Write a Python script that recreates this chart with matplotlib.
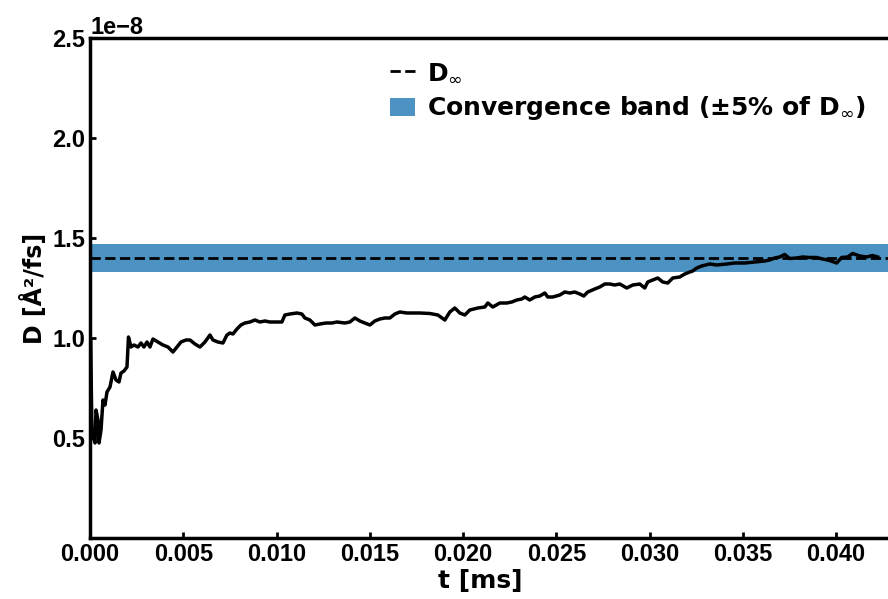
import numpy as np
import matplotlib
matplotlib.use('Agg')
import matplotlib.pyplot as plt
from matplotlib import font_manager as fm

# time [ms]
t_ms = [0.0, 0.000027, 0.000107, 0.000268, 0.000322, 0.000429, 0.000482, 0.000590, 0.000697, 0.000804,
        0.000911, 0.001072, 0.001233, 0.001393, 0.001554, 0.001661, 0.001822, 0.001983, 0.002063, 0.002197,
        0.002358, 0.002572, 0.002733, 0.002894, 0.003055, 0.003215, 0.003376, 0.003644, 0.003912, 0.004180,
        0.004448, 0.004662, 0.004877, 0.005145, 0.005359, 0.005627, 0.005895, 0.006163, 0.006431, 0.006592,
        0.006860, 0.007128, 0.007342, 0.007503, 0.007664, 0.007878, 0.008092, 0.008307, 0.008574, 0.008842,
        0.009110, 0.009378, 0.009646, 0.009968, 0.010289, 0.010450, 0.010718, 0.011093, 0.011361, 0.011522,
        0.011790, 0.012058, 0.012326, 0.012647, 0.012969, 0.013237, 0.013665, 0.013933, 0.014201, 0.014469,
        0.014737, 0.015005, 0.015273, 0.015541, 0.015809, 0.016077, 0.016345, 0.016613, 0.016988, 0.017310,
        0.017685, 0.018221, 0.018650, 0.019025, 0.019293, 0.019561, 0.019829, 0.020097, 0.020364, 0.020793,
        0.021168, 0.021329, 0.021597, 0.021972, 0.022347, 0.022615, 0.022883, 0.023151, 0.023312, 0.023580,
        0.023848, 0.024116, 0.024384, 0.024544, 0.024812, 0.025188, 0.025456, 0.025723, 0.025991, 0.026259,
        0.026474, 0.026688, 0.027063, 0.027331, 0.027599, 0.027867, 0.028135, 0.028403, 0.028778, 0.029100,
        0.029475, 0.029743, 0.029904, 0.030172, 0.030440, 0.030708, 0.030976, 0.031244, 0.031619, 0.031887,
        0.032154, 0.032315, 0.032530, 0.032798, 0.033226, 0.033601, 0.034137, 0.034566, 0.035102, 0.035638,
        0.036174, 0.036442, 0.036710, 0.036978, 0.037246, 0.037513, 0.037889, 0.038210, 0.038585, 0.038960,
        0.039282, 0.039657, 0.040032, 0.040300, 0.040622, 0.040890, 0.041265, 0.041640, 0.041961, 0.042229]

# diffusion coefficient [1e-8 A^2/fs]
D_e8 = [0.425, 1.000, 0.525, 0.475, 0.640, 0.590, 0.475, 0.540, 0.690, 0.665,
        0.730, 0.755, 0.830, 0.790, 0.780, 0.825, 0.835, 0.855, 1.005, 0.955,
        0.965, 0.955, 0.975, 0.955, 0.980, 0.955, 0.995, 0.980, 0.965, 0.955,
        0.930, 0.955, 0.980, 0.990, 0.990, 0.970, 0.955, 0.980, 1.015, 0.990,
        0.980, 0.975, 1.015, 1.025, 1.020, 1.045, 1.065, 1.075, 1.080, 1.090,
        1.080, 1.085, 1.080, 1.080, 1.080, 1.115, 1.120, 1.125, 1.120, 1.100,
        1.090, 1.065, 1.070, 1.075, 1.075, 1.080, 1.075, 1.080, 1.100, 1.085,
        1.075, 1.065, 1.085, 1.095, 1.100, 1.100, 1.120, 1.130, 1.125, 1.125,
        1.125, 1.1225, 1.115, 1.090, 1.130, 1.150, 1.125, 1.115, 1.140, 1.150,
        1.155, 1.175, 1.155, 1.175, 1.175, 1.180, 1.190, 1.195, 1.205, 1.190,
        1.205, 1.210, 1.225, 1.205, 1.205, 1.215, 1.230, 1.225, 1.230, 1.220,
        1.210, 1.230, 1.245, 1.255, 1.270, 1.270, 1.265, 1.270, 1.250, 1.265,
        1.270, 1.250, 1.280, 1.290, 1.300, 1.280, 1.275, 1.300, 1.305, 1.320,
        1.330, 1.335, 1.350, 1.360, 1.370, 1.365, 1.370, 1.375, 1.375, 1.380,
        1.385, 1.390, 1.400, 1.405, 1.4175, 1.3975, 1.400, 1.405, 1.4025, 1.4025,
        1.395, 1.3875, 1.375, 1.4025, 1.405, 1.4225, 1.410, 1.405, 1.4125, 1.405]

D_inf = 1.40e-8
band_frac = 0.05

t = np.array(t_ms)
D = np.array(D_e8) * 1e-8

# Arial-like bold for the tick numbers (make sure it is not the Narrow variant)
tick_font = fm.FontProperties(family='Liberation Sans', weight='bold', size=17)
for fe in fm.fontManager.ttflist:
    if fe.name == 'Liberation Sans' and fe.style == 'normal' and fe.weight in (700, 'bold') \
            and 'Narrow' not in fe.fname:
        tick_font = fm.FontProperties(fname=fe.fname, size=17)
        break

fig = plt.figure(figsize=(8.88, 5.99), dpi=100)
ax = fig.add_axes([90/888, 61/599, 802/888, 500/599])

ax.axhspan(D_inf*(1-band_frac), D_inf*(1+band_frac), color='tab:blue', alpha=0.8, lw=0,
           label='Convergence band (±5% of D$_\\infty$)')
ax.axhline(D_inf, color='black', ls='--', lw=2, label=r'D$_\infty$')
ax.plot(t, D, color='black', lw=2.5)

ax.set_xlim(0, 0.0430)
ax.set_ylim(0, 2.5e-8)
ax.set_xticks([0.000, 0.005, 0.010, 0.015, 0.020, 0.025, 0.030, 0.035, 0.040])
ax.set_xticklabels(['0.000', '0.005', '0.010', '0.015', '0.020', '0.025', '0.030', '0.035', '0.040'])
ax.set_yticks([0.5e-8, 1.0e-8, 1.5e-8, 2.0e-8, 2.5e-8])

ax.tick_params(direction='in', length=4, width=2)
fig.canvas.draw()
for lab in ax.get_xticklabels() + ax.get_yticklabels():
    lab.set_fontproperties(tick_font)
ax.yaxis.get_offset_text().set_fontproperties(tick_font)

for s in ax.spines.values():
    s.set_linewidth(2.5)

ax.set_xlabel('t [ms]', fontsize=18, fontweight='bold', family='DejaVu Sans')
ax.xaxis.set_label_coords((480 - 90) / 802, -0.062)
ax.set_ylabel('D [Å²/fs]', fontsize=17, fontweight='bold', family='DejaVu Sans', labelpad=4)

h, l = ax.get_legend_handles_labels()
leg = ax.legend(h[::-1], l[::-1], loc='upper left', bbox_to_anchor=(0.374, 0.955), frameon=False,
                prop={'weight': 'bold', 'size': 18, 'family': 'DejaVu Sans'},
                handlelength=1.0, handletextpad=0.5, borderpad=0, borderaxespad=0, labelspacing=0.4)

plt.savefig('out.png', dpi=100)
